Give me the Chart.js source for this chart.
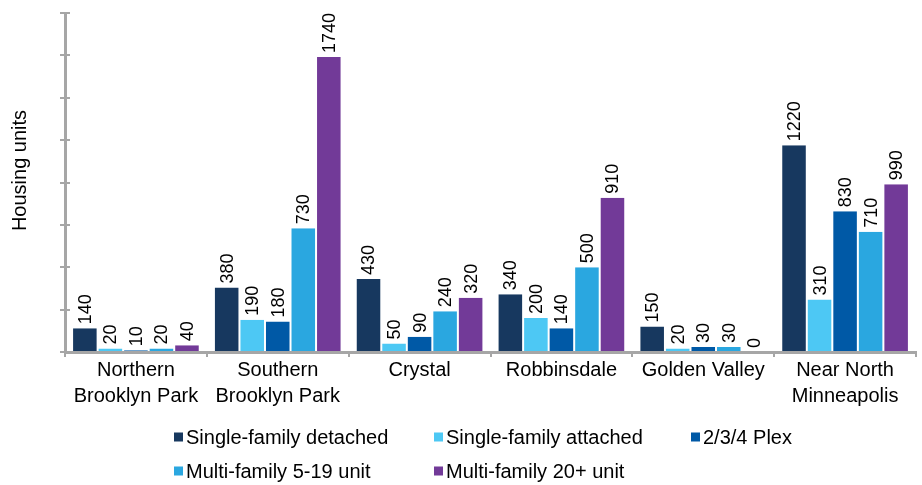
<!DOCTYPE html>
<html>
<head>
<meta charset="utf-8">
<script src="https://cdn.jsdelivr.net/npm/chart.js@4/dist/chart.umd.min.js"></script>
<style>
  html, body { margin: 0; padding: 0; background: #fff; }
  #wrap { width: 922px; height: 485px; }
</style>
</head>
<body>
<div id="wrap"><canvas id="c" width="922" height="485"></canvas></div>
<script>
const categories = [
  ['Northern', 'Brooklyn Park'],
  ['Southern', 'Brooklyn Park'],
  ['Crystal'],
  ['Robbinsdale'],
  ['Golden Valley'],
  ['Near North', 'Minneapolis']
];
const seriesNames = ['Single-family detached', 'Single-family attached', '2/3/4 Plex', 'Multi-family 5-19 unit', 'Multi-family 20+ unit'];
const singleDetached = [140, 380, 430, 340, 150, 1220];
const singleAttached = [20, 190, 50, 200, 20, 310];
const plex234 = [10, 180, 90, 140, 30, 830];
const multi519 = [20, 730, 240, 500, 30, 710];
const multi20 = [40, 1740, 320, 910, 0, 990];
const seriesColors = ['#17385F', '#4DC8F4', '#0059A6', '#2AA7E0', '#723A98'];
const yMax = 2000;
const yStep = 250;
const yTitle = 'Housing units';

const FONT = '"Liberation Sans", Arial, sans-serif';
const seriesValues = [singleDetached, singleAttached, plex234, multi519, multi20];

const barLabels = {
  id: 'barLabels',
  afterDatasetsDraw(chart) {
    const ctx = chart.ctx;
    ctx.save();
    ctx.font = '18px ' + FONT;
    ctx.fillStyle = '#000';
    ctx.textAlign = 'left';
    ctx.textBaseline = 'middle';
    chart.data.datasets.forEach((ds, di) => {
      const meta = chart.getDatasetMeta(di);
      meta.data.forEach((bar, i) => {
        ctx.save();
        ctx.translate(bar.x, bar.y - 4);
        ctx.rotate(-Math.PI / 2);
        ctx.fillText(String(ds.data[i]), 0, 1);
        ctx.restore();
      });
    });
    ctx.restore();
  }
};

const axisExtras = {
  id: 'axisExtras',
  afterDraw(chart) {
    const ctx = chart.ctx;
    const y = chart.scales.y;
    ctx.save();
    ctx.strokeStyle = '#A6A6A6';
    ctx.lineWidth = 2;
    y.ticks.forEach(t => {
      const py = Math.round(y.getPixelForValue(t.value));
      ctx.beginPath();
      ctx.moveTo(y.right, py);
      ctx.lineTo(y.right + 5, py);
      ctx.stroke();
    });
    // y-axis title
    ctx.fillStyle = '#000';
    ctx.font = '20px ' + FONT;
    ctx.textAlign = 'center';
    ctx.textBaseline = 'middle';
    ctx.translate(20, (chart.chartArea.top + chart.chartArea.bottom) / 2 - 12);
    ctx.rotate(-Math.PI / 2);
    ctx.fillText(yTitle, 0, 0);
    ctx.restore();
  }
};

const gridLegend = {
  id: 'gridLegend',
  afterDraw(chart) {
    const ctx = chart.ctx;
    const cols = [174, 434, 691];
    const rows = [437, 471];
    ctx.save();
    ctx.font = '20px ' + FONT;
    ctx.textBaseline = 'middle';
    ctx.textAlign = 'left';
    seriesNames.forEach((name, i) => {
      const r = Math.floor(i / 3), c = i % 3;
      const x = cols[c], y = rows[r];
      ctx.fillStyle = seriesColors[i];
      ctx.fillRect(x, y - 4.5, 9, 9);
      ctx.fillStyle = '#000';
      ctx.fillText(name, x + 12, y + 1);
    });
    ctx.restore();
  }
};

new Chart(document.getElementById('c'), {
  type: 'bar',
  data: {
    labels: categories,
    datasets: seriesNames.map((n, i) => ({
      label: n,
      data: seriesValues[i],
      backgroundColor: seriesColors[i],
      borderColor: 'rgba(255,255,255,0.7)',
      borderWidth: { left: 1, right: 1, top: 0, bottom: 0 },
      categoryPercentage: 0.9,
      barPercentage: 1.0
    }))
  },
  options: {
    responsive: false,
    animation: false,
    devicePixelRatio: 1,
    layout: { padding: { top: 13, right: 6, left: 60, bottom: 76 } },
    plugins: {
      legend: { display: false },
      tooltip: { enabled: false }
    },
    scales: {
      x: {
        grid: { display: true, drawOnChartArea: false, offset: true, color: '#A6A6A6', lineWidth: 2, tickLength: 5 },
        border: { display: true, color: '#A6A6A6', width: 3 },
        ticks: { color: '#000', font: { family: FONT, size: 20, lineHeight: 1.3 }, padding: 0, maxRotation: 0, autoSkip: false }
      },
      y: {
        min: 0, max: yMax,
        grid: { display: true, drawOnChartArea: false, color: '#A6A6A6', lineWidth: 2, tickLength: 5 },
        border: { display: true, color: '#A6A6A6', width: 3 },
        ticks: { display: false, stepSize: yStep },
        title: { display: false, text: yTitle }
      }
    }
  },
  plugins: [barLabels, axisExtras, gridLegend]
});
</script>
</body>
</html>
